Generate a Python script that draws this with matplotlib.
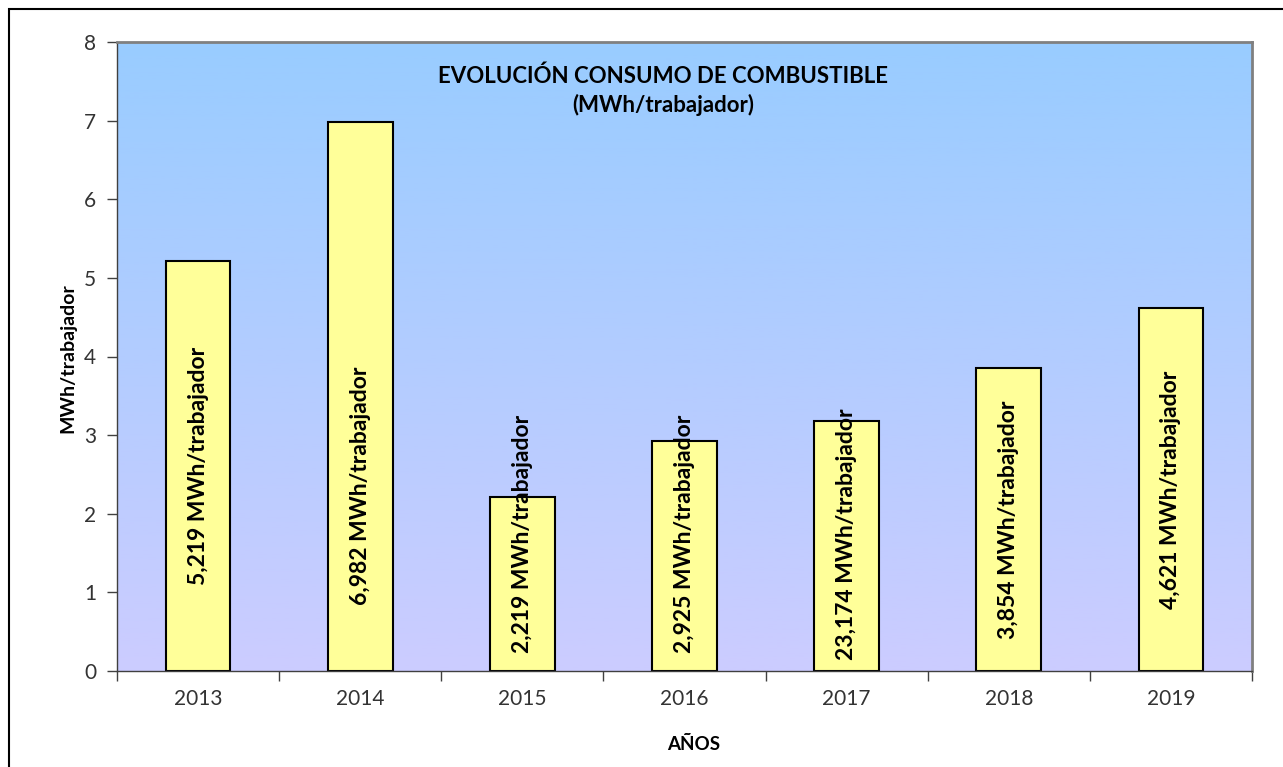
import matplotlib.pyplot as plt
from matplotlib.patches import Rectangle
import numpy as np

plt.rcParams['font.family'] = ['Lato', 'DejaVu Sans']

# data
years = ['2013', '2014', '2015', '2016', '2017', '2018', '2019']
consumo = [5.219, 6.982, 2.219, 2.925, 3.174, 3.854, 4.621]
etiquetas = ['5,219 MWh/trabajador', '6,982 MWh/trabajador', '2,219 MWh/trabajador',
             '2,925 MWh/trabajador', '23,174 MWh/trabajador', '3,854 MWh/trabajador',
             '4,621 MWh/trabajador']

W, H = 1283, 767
fig = plt.figure(figsize=(W / 100, H / 100), dpi=100)
fig.patch.set_facecolor('white')

# outer chart border (cut at right and bottom like the original)
fig.patches.append(Rectangle((9 / W, -0.05), 1.2, 1 - 9 / H + 0.05, transform=fig.transFigure,
                             fill=False, edgecolor='black', linewidth=1.5))

left, right, top, bottom = 117, 1252, 42, 671
ax = fig.add_axes([left / W, 1 - bottom / H, (right - left) / W, (bottom - top) / H])

# background gradient
grad = np.linspace(0, 1, 256).reshape(-1, 1)
c_top = np.array([153, 204, 255]) / 255
c_bot = np.array([204, 204, 255]) / 255
img = c_top[None, None, :] * (1 - grad[:, :, None]) + c_bot[None, None, :] * grad[:, :, None]
ax.imshow(img, extent=[0, 1, 0, 1], transform=ax.transAxes, aspect='auto', zorder=0)

x = np.arange(len(years))
ax.bar(x, consumo, width=0.4, color='#FFFF99', edgecolor='black', linewidth=1.5, zorder=2)

# labels: centered in the bar, pushed up when the bar is too short
min_center = 1.74
nudge = {1: 2.35}  # label moved by hand in the original
for i, (v, t) in enumerate(zip(consumo, etiquetas)):
    yc = nudge.get(i, max(v / 2, min_center))
    ax.text(i, yc, t, rotation=90, ha='center', va='center', fontsize=16.5,
            fontweight='bold', color='black', zorder=3)

ax.set_xlim(-0.5, len(years) - 0.5)
ax.set_ylim(0, 8)
ax.set_xticks(x)
ax.set_xticklabels(years)
ax.set_xticks(np.arange(-0.5, len(years)), minor=True)
ax.tick_params(axis='x', which='major', length=0, pad=13, labelsize=15, labelcolor='#333333')
ax.tick_params(axis='x', which='minor', length=7, width=1, color='#404040')
ax.set_yticks(range(0, 9))
ax.tick_params(axis='y', length=7, width=1, color='#404040', pad=8, labelsize=15,
               labelcolor='#333333')

for s in ['top', 'right']:
    ax.spines[s].set_color('#808080')
    ax.spines[s].set_linewidth(2)
for s in ['left', 'bottom']:
    ax.spines[s].set_color('#404040')
    ax.spines[s].set_linewidth(1)

ax.text(0.481, 0.945, 'EVOLUCIÓN CONSUMO DE COMBUSTIBLE', transform=ax.transAxes,
        ha='center', va='center', fontsize=16, fontweight='bold')
ax.text(0.481, 0.9, '(MWh/trabajador)', transform=ax.transAxes,
        ha='center', va='center', fontsize=16, fontweight='bold')

fig.text(68 / W, 1 - 358 / H, 'MWh/trabajador', rotation=90, ha='center', va='center',
         fontsize=14, fontweight='bold')
fig.text(694 / W, 1 - 744 / H, 'AÑOS', ha='center', va='center', fontsize=13.5,
         fontweight='bold')

fig.savefig('out.png', dpi=100)
